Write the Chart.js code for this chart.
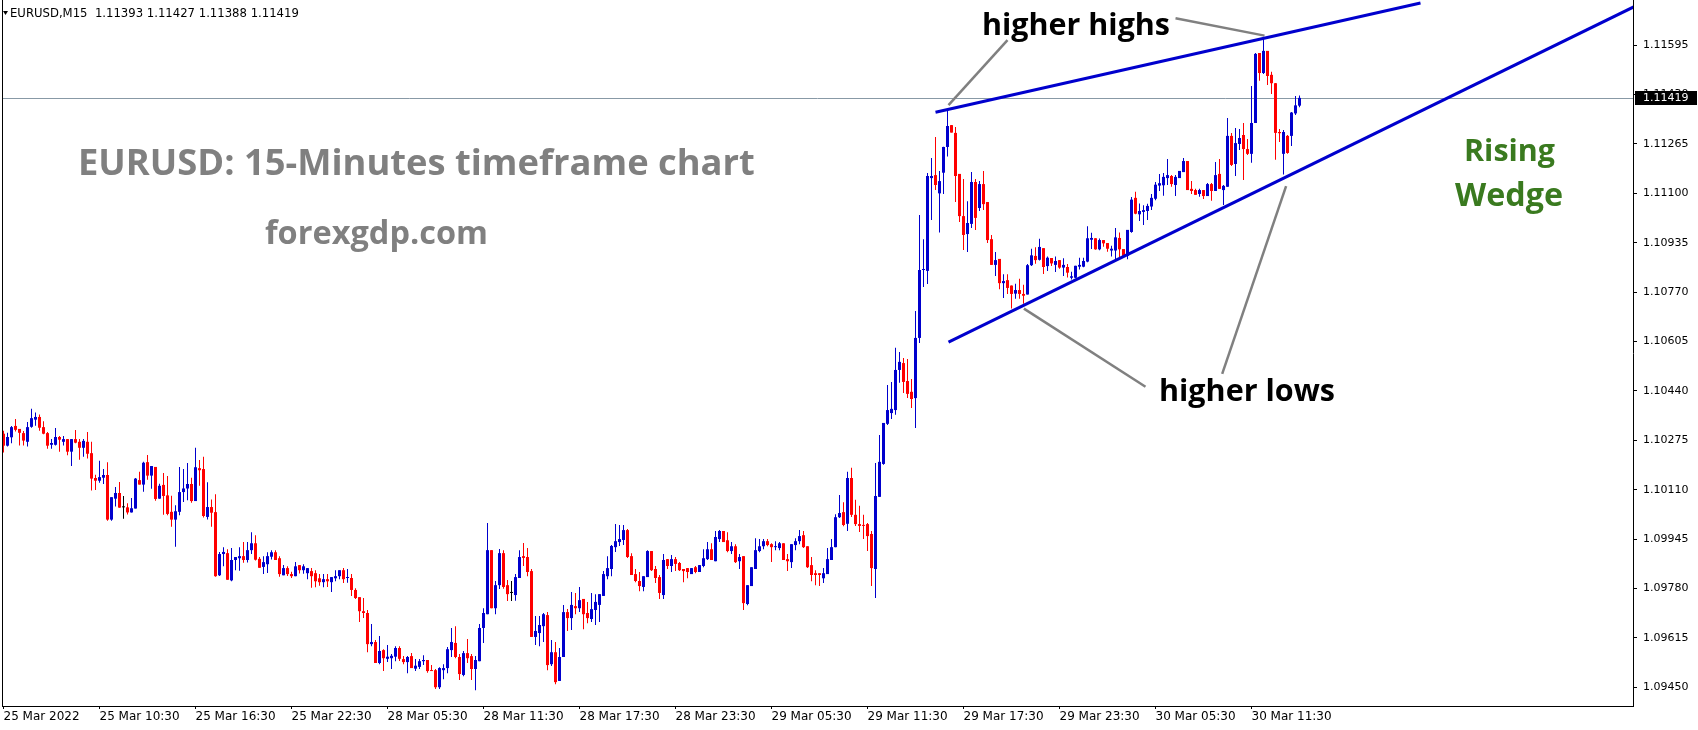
<!DOCTYPE html>
<html><head><meta charset="utf-8">
<script src="https://cdn.jsdelivr.net/npm/chart.js@4/dist/chart.umd.min.js"></script>
<style>html,body{margin:0;padding:0;background:#fff;overflow:hidden}canvas{display:block}</style>
</head><body>
<canvas id="c" width="1698" height="730"></canvas>
<script>
// ---- DATA (EURUSD M15) ----
const tickLabels = ['25 Mar 2022','25 Mar 10:30','25 Mar 16:30','25 Mar 22:30','28 Mar 05:30','28 Mar 11:30','28 Mar 17:30','28 Mar 23:30','29 Mar 05:30','29 Mar 11:30','29 Mar 17:30','29 Mar 23:30','30 Mar 05:30','30 Mar 11:30'];
const barsPerLabel = 24;
const priceTicks = [1.09450,1.09615,1.09780,1.09945,1.10110,1.10275,1.10440,1.10605,1.10770,1.10935,1.11100,1.11265,1.11430,1.11595];

const opens = [
1.10297,1.10257,1.10285,1.10323,1.10313,1.10299,1.10270,1.10320,1.10344,1.10353,
1.10319,1.10299,1.10260,1.10260,1.10286,1.10270,1.10279,1.10237,1.10279,1.10270,
1.10250,1.10270,1.10232,1.10149,1.10140,1.10150,1.10159,1.10010,1.10080,1.10099,
1.10051,1.10051,1.10034,1.10047,1.10142,1.10127,1.10202,1.10157,1.10186,1.10080,
1.10126,1.10091,1.10036,1.10010,1.10036,1.10102,1.10114,1.10129,1.10072,1.10182,
1.10179,1.10019,1.10052,1.10035,1.09824,1.09895,1.09898,1.09807,1.09875,1.09881,
1.09888,1.09875,1.09908,1.09931,1.09879,1.09852,1.09861,1.09886,1.09901,1.09881,
1.09824,1.09848,1.09828,1.09821,1.09858,1.09841,1.09831,1.09838,1.09831,1.09814,
1.09801,1.09811,1.09801,1.09814,1.09821,1.09841,1.09815,1.09815,1.09775,1.09751,
1.09704,1.09698,1.09594,1.09601,1.09531,1.09574,1.09545,1.09547,1.09552,1.09581,
1.09544,1.09534,1.09554,1.09512,1.09518,1.09537,1.09541,1.09507,1.09507,1.09450,
1.09507,1.09514,1.09574,1.09598,1.09551,1.09491,1.09564,1.09554,1.09511,1.09537,
1.09648,1.09694,1.09908,1.09714,1.09791,1.09898,1.09791,1.09765,1.09758,1.09815,
1.09888,1.09885,1.09838,1.09618,1.09631,1.09654,1.09691,1.09527,1.09567,1.09471,
1.09551,1.09701,1.09681,1.09721,1.09714,1.09745,1.09698,1.09678,1.09708,1.09725,
1.09755,1.09821,1.09845,1.09918,1.09935,1.09942,1.09975,1.09888,1.09828,1.09805,
1.09785,1.09818,1.09905,1.09845,1.09818,1.09758,1.09878,1.09855,1.09878,1.09865,
1.09845,1.09848,1.09828,1.09851,1.09835,1.09855,1.09878,1.09911,1.09871,1.09945,
1.09972,1.09941,1.09905,1.09921,1.09871,1.09888,1.09728,1.09788,1.09845,1.09905,
1.09921,1.09938,1.09928,1.09918,1.09915,1.09931,1.09878,1.09868,1.09925,1.09938,
1.09958,1.09921,1.09858,1.09831,1.09831,1.09814,1.09828,1.09875,1.09918,1.10018,
1.10035,1.09996,1.10149,1.10026,1.09995,1.09992,1.09995,1.09962,1.09845,1.10086,
1.10196,1.10330,1.10366,1.10376,1.10510,1.10533,1.10473,1.10437,1.10416,1.10617,
1.10844,1.10841,1.11151,1.11161,1.11100,1.11169,1.11255,1.11328,1.11302,1.11165,
1.11024,1.10964,1.10998,1.11138,1.11051,1.11131,1.11071,1.10947,1.10861,1.10881,
1.10800,1.10810,1.10792,1.10765,1.10777,1.10764,1.10762,1.10860,1.10891,1.10878,
1.10917,1.10857,1.10884,1.10861,1.10877,1.10852,1.10854,1.10818,1.10818,1.10855,
1.10855,1.10872,1.10945,1.10950,1.10913,1.10944,1.10934,1.10909,1.10909,1.10951,
1.10914,1.10891,1.10971,1.11085,1.11030,1.11038,1.11041,1.11056,1.11082,1.11126,
1.11127,1.11151,1.11158,1.11128,1.11151,1.11171,1.11208,1.11115,1.11111,1.11098,
1.11111,1.11091,1.11131,1.11108,1.11165,1.11111,1.11122,1.11292,1.11198,1.11265,
1.11295,1.11248,1.11232,1.11335,1.11569,1.11502,1.11576,1.11496,1.11468,1.11305,
1.11232,1.11292,1.11292,1.11367,1.11393];

const highs = [
1.10307,1.10300,1.10323,1.10346,1.10313,1.10306,1.10336,1.10380,1.10368,1.10361,
1.10339,1.10303,1.10279,1.10316,1.10289,1.10289,1.10279,1.10279,1.10309,1.10279,
1.10279,1.10303,1.10270,1.10160,1.10207,1.10179,1.10202,1.10085,1.10119,1.10136,
1.10089,1.10065,1.10082,1.10149,1.10170,1.10203,1.10226,1.10189,1.10186,1.10130,
1.10166,1.10156,1.10090,1.10058,1.10186,1.10179,1.10199,1.10150,1.10250,1.10209,
1.10220,1.10135,1.10077,1.10095,1.09902,1.09918,1.09911,1.09915,1.09885,1.09918,
1.09935,1.09935,1.09968,1.09958,1.09885,1.09888,1.09901,1.09908,1.09908,1.09888,
1.09858,1.09854,1.09836,1.09868,1.09858,1.09861,1.09848,1.09848,1.09841,1.09828,
1.09828,1.09828,1.09818,1.09841,1.09841,1.09848,1.09845,1.09828,1.09781,1.09751,
1.09748,1.09708,1.09661,1.09608,1.09621,1.09577,1.09591,1.09561,1.09587,1.09587,
1.09554,1.09554,1.09564,1.09544,1.09544,1.09557,1.09541,1.09524,1.09511,1.09517,
1.09527,1.09584,1.09648,1.09654,1.09561,1.09571,1.09611,1.09561,1.09554,1.09661,
1.09714,1.09999,1.09908,1.09805,1.09912,1.09908,1.09808,1.09805,1.09828,1.09908,
1.09932,1.09915,1.09845,1.09688,1.09688,1.09698,1.09701,1.09608,1.09601,1.09581,
1.09725,1.09711,1.09768,1.09765,1.09785,1.09745,1.09735,1.09765,1.09761,1.09761,
1.09838,1.09888,1.09925,1.09995,1.09992,1.09992,1.09979,1.09898,1.09845,1.09835,
1.09821,1.09908,1.09905,1.09855,1.09825,1.09895,1.09878,1.09892,1.09885,1.09868,
1.09845,1.09848,1.09848,1.09855,1.09858,1.09911,1.09935,1.09931,1.09972,1.09975,
1.09972,1.09968,1.09935,1.09928,1.09895,1.09888,1.09791,1.09851,1.09948,1.09945,
1.09945,1.09945,1.09931,1.09938,1.09935,1.09931,1.09895,1.09928,1.09948,1.09975,
1.09972,1.09921,1.09885,1.09841,1.09831,1.09848,1.09915,1.09945,1.10028,1.10092,
1.10068,1.10170,1.10183,1.10076,1.10056,1.10026,1.09999,1.09972,1.10199,1.10293,
1.10333,1.10460,1.10470,1.10584,1.10570,1.10550,1.10547,1.10480,1.10707,1.11028,
1.10947,1.11168,1.11218,1.11288,1.11175,1.11256,1.11379,1.11328,1.11322,1.11165,
1.11148,1.11074,1.11171,1.11148,1.11141,1.11175,1.11071,1.10961,1.10904,1.10881,
1.10830,1.10830,1.10792,1.10798,1.10815,1.10795,1.10864,1.10915,1.10920,1.10948,
1.10917,1.10889,1.10884,1.10889,1.10877,1.10883,1.10864,1.10838,1.10858,1.10885,
1.10885,1.10990,1.10968,1.10950,1.10949,1.10944,1.10934,1.10925,1.10984,1.10969,
1.10914,1.10978,1.11088,1.11105,1.11066,1.11060,1.11065,1.11098,1.11138,1.11165,
1.11168,1.11215,1.11161,1.11161,1.11175,1.11218,1.11208,1.11141,1.11115,1.11115,
1.11111,1.11135,1.11135,1.11205,1.11215,1.11128,1.11352,1.11302,1.11318,1.11315,
1.11335,1.11282,1.11459,1.11569,1.11569,1.11619,1.11576,1.11506,1.11469,1.11315,
1.11312,1.11295,1.11372,1.11425,1.11427];

const lows = [
1.10234,1.10254,1.10265,1.10304,1.10258,1.10258,1.10254,1.10317,1.10324,1.10307,
1.10295,1.10247,1.10247,1.10258,1.10237,1.10258,1.10225,1.10189,1.10265,1.10210,
1.10220,1.10214,1.10107,1.10109,1.10133,1.10129,1.10006,1.10006,1.10054,1.10050,
1.10013,1.10027,1.10034,1.10047,1.10127,1.10103,1.10143,1.10113,1.10073,1.10080,
1.10026,1.10025,1.09986,1.09919,1.10025,1.10069,1.10075,1.10066,1.10072,1.10123,
1.10017,1.10010,1.09986,1.09819,1.09822,1.09854,1.09809,1.09804,1.09841,1.09839,
1.09866,1.09867,1.09895,1.09873,1.09849,1.09828,1.09832,1.09877,1.09875,1.09819,
1.09824,1.09822,1.09815,1.09821,1.09830,1.09829,1.09811,1.09782,1.09784,1.09789,
1.09784,1.09785,1.09768,1.09804,1.09811,1.09798,1.09799,1.09755,1.09745,1.09668,
1.09681,1.09567,1.09587,1.09531,1.09527,1.09504,1.09534,1.09511,1.09537,1.09538,
1.09527,1.09497,1.09514,1.09504,1.09511,1.09524,1.09498,1.09504,1.09444,1.09444,
1.09477,1.09497,1.09551,1.09547,1.09474,1.09487,1.09531,1.09474,1.09440,1.09537,
1.09598,1.09694,1.09714,1.09694,1.09778,1.09779,1.09738,1.09738,1.09739,1.09815,
1.09855,1.09821,1.09618,1.09591,1.09587,1.09601,1.09507,1.09521,1.09460,1.09471,
1.09551,1.09638,1.09641,1.09694,1.09701,1.09644,1.09664,1.09668,1.09658,1.09668,
1.09755,1.09811,1.09821,1.09902,1.09922,1.09925,1.09882,1.09825,1.09801,1.09771,
1.09771,1.09818,1.09838,1.09798,1.09745,1.09745,1.09845,1.09835,1.09838,1.09838,
1.09801,1.09814,1.09828,1.09831,1.09835,1.09851,1.09875,1.09875,1.09871,1.09935,
1.09935,1.09901,1.09895,1.09865,1.09845,1.09708,1.09724,1.09788,1.09845,1.09901,
1.09911,1.09921,1.09868,1.09908,1.09908,1.09875,1.09838,1.09848,1.09908,1.09928,
1.09915,1.09848,1.09804,1.09791,1.09788,1.09798,1.09828,1.09875,1.09918,1.10015,
1.09988,1.09972,1.10019,1.09989,1.09969,1.09945,1.09905,1.09788,1.09748,1.10086,
1.10193,1.10326,1.10346,1.10360,1.10467,1.10433,1.10416,1.10383,1.10316,1.10600,
1.10787,1.10797,1.11011,1.11111,1.10969,1.11098,1.11223,1.11303,1.11071,1.11004,
1.10911,1.10904,1.10984,1.10978,1.11041,1.11044,1.10934,1.10861,1.10824,1.10780,
1.10750,1.10764,1.10715,1.10748,1.10748,1.10731,1.10762,1.10857,1.10865,1.10876,
1.10831,1.10841,1.10857,1.10837,1.10848,1.10824,1.10819,1.10812,1.10816,1.10846,
1.10853,1.10870,1.10914,1.10912,1.10910,1.10922,1.10905,1.10889,1.10877,1.10884,
1.10886,1.10880,1.10968,1.11030,1.11008,1.10994,1.11011,1.11044,1.11077,1.11108,
1.11092,1.11128,1.11122,1.11091,1.11151,1.11171,1.11111,1.11098,1.11095,1.11089,
1.11081,1.11091,1.11075,1.11108,1.11115,1.11061,1.11122,1.11191,1.11158,1.11245,
1.11145,1.11228,1.11202,1.11335,1.11476,1.11499,1.11462,1.11432,1.11212,1.11272,
1.11163,1.11232,1.11258,1.11362,1.11388];

const closes = [
1.10257,1.10286,1.10319,1.10310,1.10300,1.10274,1.10319,1.10349,1.10353,1.10317,
1.10297,1.10257,1.10266,1.10286,1.10277,1.10279,1.10237,1.10279,1.10267,1.10250,
1.10273,1.10230,1.10147,1.10140,1.10152,1.10159,1.10010,1.10085,1.10099,1.10050,
1.10051,1.10034,1.10048,1.10147,1.10127,1.10200,1.10157,1.10189,1.10079,1.10123,
1.10089,1.10029,1.10010,1.10038,1.10102,1.10114,1.10129,1.10072,1.10185,1.10175,
1.10022,1.10052,1.10033,1.09821,1.09895,1.09902,1.09809,1.09875,1.09885,1.09888,
1.09875,1.09908,1.09931,1.09876,1.09849,1.09868,1.09888,1.09901,1.09875,1.09828,
1.09848,1.09828,1.09821,1.09854,1.09841,1.09854,1.09848,1.09821,1.09804,1.09801,
1.09811,1.09804,1.09818,1.09821,1.09841,1.09811,1.09818,1.09775,1.09748,1.09704,
1.09698,1.09594,1.09601,1.09531,1.09571,1.09547,1.09552,1.09555,1.09581,1.09545,
1.09534,1.09551,1.09514,1.09522,1.09537,1.09541,1.09504,1.09504,1.09450,1.09514,
1.09514,1.09577,1.09601,1.09551,1.09494,1.09564,1.09547,1.09511,1.09541,1.09648,
1.09698,1.09908,1.09714,1.09791,1.09898,1.09785,1.09761,1.09765,1.09818,1.09885,
1.09882,1.09835,1.09618,1.09638,1.09658,1.09694,1.09524,1.09567,1.09467,1.09551,
1.09701,1.09681,1.09725,1.09714,1.09741,1.09694,1.09681,1.09711,1.09735,1.09761,
1.09828,1.09848,1.09922,1.09938,1.09945,1.09975,1.09885,1.09825,1.09805,1.09788,
1.09821,1.09905,1.09841,1.09815,1.09765,1.09875,1.09855,1.09878,1.09862,1.09841,
1.09838,1.09835,1.09848,1.09835,1.09858,1.09881,1.09911,1.09875,1.09952,1.09972,
1.09935,1.09905,1.09921,1.09868,1.09885,1.09731,1.09791,1.09851,1.09908,1.09921,
1.09938,1.09925,1.09918,1.09921,1.09931,1.09875,1.09871,1.09928,1.09938,1.09955,
1.09918,1.09851,1.09825,1.09825,1.09825,1.09831,1.09878,1.09918,1.10018,1.10032,
1.09992,1.10149,1.10026,1.09995,1.09989,1.09989,1.09955,1.09848,1.10089,1.10203,
1.10333,1.10376,1.10380,1.10510,1.10537,1.10470,1.10430,1.10413,1.10617,1.10844,
1.10847,1.11158,1.11158,1.11128,1.11141,1.11255,1.11325,1.11303,1.11158,1.11024,
1.10961,1.11001,1.11138,1.11018,1.11131,1.11064,1.10944,1.10861,1.10877,1.10800,
1.10807,1.10784,1.10764,1.10777,1.10764,1.10758,1.10860,1.10893,1.10877,1.10921,
1.10854,1.10885,1.10866,1.10874,1.10852,1.10861,1.10835,1.10823,1.10858,1.10861,
1.10874,1.10950,1.10951,1.10913,1.10944,1.10933,1.10915,1.10915,1.10953,1.10913,
1.10891,1.10978,1.11079,1.11032,1.11041,1.11044,1.11058,1.11085,1.11129,1.11134,
1.11155,1.11161,1.11131,1.11155,1.11175,1.11208,1.11111,1.11108,1.11095,1.11111,
1.11091,1.11131,1.11108,1.11161,1.11115,1.11125,1.11292,1.11195,1.11268,1.11285,
1.11248,1.11232,1.11335,1.11566,1.11502,1.11576,1.11492,1.11468,1.11302,1.11301,
1.11305,1.11235,1.11370,1.11394,1.11419];

// trend lines drawn on the chart (bar index, price)
const wedgeUpper = [{x:233, y:1.11371},{x:354.25, y:1.11736}];
const wedgeLower = [{x:236.25, y:1.10603},{x:408, y:1.11726}];
const pointerHH1 = [{x:236.25, y:1.11395},{x:251, y:1.11612}];
const pointerHH2 = [{x:293, y:1.11685},{x:315.25, y:1.11627}];
const pointerHL1 = [{x:255.1, y:1.10715},{x:285.5, y:1.10454}];
const pointerHL2 = [{x:320.65, y:1.11124},{x:304.67, y:1.10497}];

const symbolHeader = 'EURUSD,M15  1.11393 1.11427 1.11388 1.11419';
const bidPrice = closes[closes.length-1];

// ---- STYLE ----
const BULL = '#0000cd', BEAR = '#ff0000', DOJI = '#000000';
const candleColor = opens.map((o,i)=> closes[i]>o ? BULL : (closes[i]<o ? BEAR : DOJI));

const texts = [
  {text:'EURUSD: 15-Minutes timeframe chart', x:78, y:165, w:677, color:'#808080'},
  {text:'forexgdp.com', x:265, y:235, w:223, color:'#808080'},
  {text:'higher highs', x:982, y:26, w:188, color:'#000000'},
  {text:'higher lows', x:1159, y:392, w:176, color:'#000000'},
  {text:'Rising', x:1464, y:152, w:91, color:'#3a7a1f'},
  {text:'Wedge', x:1455, y:197, w:108, color:'#3a7a1f'}
];

function fitFont(c, text, width, weight, family){
  c.font = weight+' 100px '+family;
  const w = c.measureText(text).width;
  c.font = weight+' '+(100*width/w).toFixed(2)+'px '+family;
}

const overlay = {
  id:'overlay',
  beforeDraw(chart){
    const c = chart.ctx; c.save(); c.fillStyle='#fff'; c.fillRect(0,0,chart.width,chart.height); c.restore();
  },
  beforeDatasetsDraw(chart){
    const c = chart.ctx, a = chart.chartArea, y = Math.round(chart.scales.y.getPixelForValue(bidPrice))+0.5;
    c.save(); c.strokeStyle='#8899a6'; c.lineWidth=1; c.beginPath(); c.moveTo(a.left,y); c.lineTo(a.right,y); c.stroke(); c.restore();
  },
  afterDraw(chart){
    const c = chart.ctx, a = chart.chartArea;
    c.save();
    // left frame line
    c.strokeStyle='#000'; c.lineWidth=1; c.beginPath(); c.moveTo(a.left+0.5,0); c.lineTo(a.left+0.5,a.bottom); c.stroke();
    // current price box
    const y = chart.scales.y.getPixelForValue(bidPrice);
    c.fillStyle='#000'; c.fillRect(a.right+2, Math.round(y)-7, chart.width-a.right-3, 14);
    c.fillStyle='#fff'; c.font='11px "DejaVu Sans"'; c.textBaseline='middle'; c.textAlign='left';
    c.fillText(bidPrice.toFixed(5), a.right+10, y+0.5);
    // header
    c.fillStyle='#000'; c.beginPath(); c.moveTo(3,11); c.lineTo(8,11); c.lineTo(5.5,15); c.closePath(); c.fill();
    fitFont(c, symbolHeader, 289, '400', '"DejaVu Sans"');
    c.textBaseline='middle'; c.fillText(symbolHeader, 10, 13.5);
    // annotations
    for (const t of texts){
      fitFont(c, t.text, t.w, '700', '"Open Sans"');
      c.fillStyle=t.color; c.textBaseline='middle'; c.textAlign='left';
      c.fillText(t.text, t.x, t.y);
    }
    c.restore();
  }
};

const lineDs = (data,color,width)=>({type:'line', data, borderColor:color, borderWidth:width, pointRadius:0, fill:false, tension:0, order:0, borderCapStyle:'butt'});

new Chart(document.getElementById('c'), {
  type:'bar',
  data:{
    datasets:[
      lineDs(wedgeUpper,'#0000cd',3),
      lineDs(wedgeLower,'#0000cd',3),
      lineDs(pointerHH1,'#808080',2.5),
      lineDs(pointerHH2,'#808080',2.5),
      lineDs(pointerHL1,'#808080',2.5),
      lineDs(pointerHL2,'#808080',2.5),
      {type:'bar', data: opens.map((o,i)=>({x:i, y:[o, closes[i]]})), backgroundColor:candleColor, barThickness:3, grouped:false, minBarLength:1, borderWidth:0, inflateAmount:0, order:1},
      {type:'bar', data: highs.map((h,i)=>({x:i, y:[lows[i], h]})), backgroundColor:candleColor, barThickness:1, grouped:false, minBarLength:1, borderWidth:0, inflateAmount:0, order:2}
    ]
  },
  options:{
    responsive:false, animation:false, devicePixelRatio:1,
    layout:{padding:{left:2, right:0, top:0, bottom:0}},
    plugins:{legend:{display:false}, tooltip:{enabled:false}},
    scales:{
      x:{
        type:'linear', position:'bottom', min:-0.375, max:407.375, offset:false,
        afterBuildTicks: s => { s.ticks = tickLabels.map((_,k)=>({value:k*barsPerLabel})); },
        afterFit: s => { s.height = 24; s.paddingLeft = 0; s.paddingRight = 0; },
        ticks:{autoSkip:false, maxRotation:0, align:'start', padding:1, color:'#000', font:{family:'DejaVu Sans', size:12},
          callback: v => tickLabels[Math.round(v/barsPerLabel)] || ''},
        grid:{offset:false, drawOnChartArea:false, drawTicks:true, tickLength:3, color:'#000'},
        border:{display:true, color:'#000', width:1}
      },
      y:{
        type:'linear', position:'right', min:1.093873, max:1.11746,
        afterBuildTicks: s => { s.ticks = priceTicks.map(v=>({value:v})); },
        afterFit: s => { s.width = 65; s.paddingTop = 0; s.paddingBottom = 0; },
        ticks:{padding:6, color:'#000', font:{family:'DejaVu Sans', size:11}, callback: v => Number(v).toFixed(5)},
        grid:{drawOnChartArea:false, drawTicks:true, tickLength:4, color:'#000'},
        border:{display:true, color:'#000', width:1}
      }
    }
  },
  plugins:[overlay]
});
</script>
</body></html>
